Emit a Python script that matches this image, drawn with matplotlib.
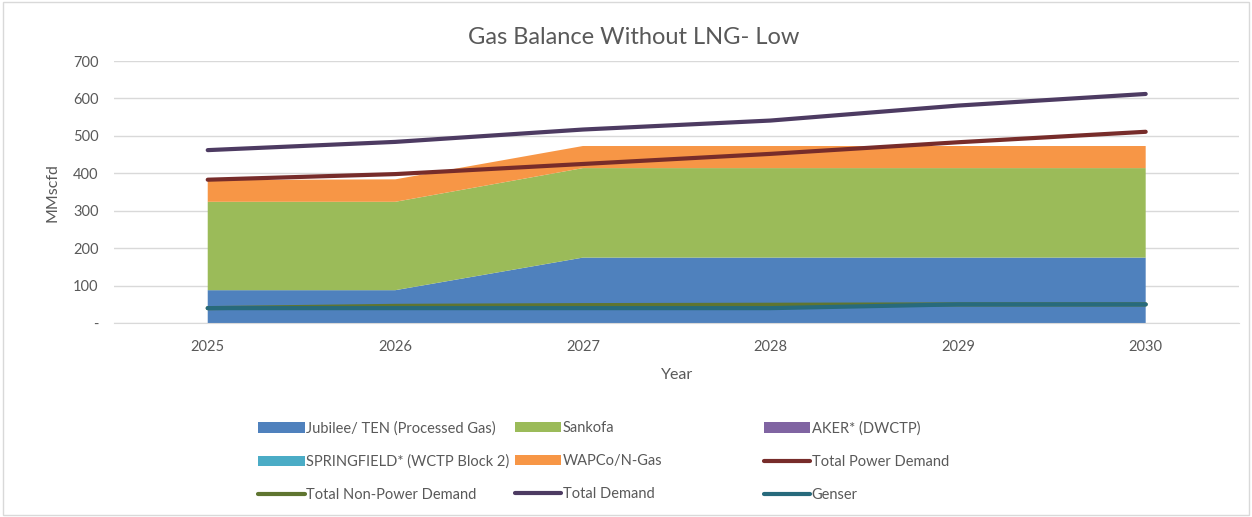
import matplotlib
matplotlib.use("Agg")
import matplotlib.pyplot as plt
from matplotlib.patches import Rectangle

plt.rcParams['font.family'] = ['Lato', 'DejaVu Sans']

years = ["2025", "2026", "2027", "2028", "2029", "2030"]
jubilee = [88, 88, 175, 175, 175, 175]
sankofa = [236, 236, 239, 239, 239, 239]
aker = [0, 0, 0, 0, 0, 0]
springfield = [0, 0, 0, 0, 0, 0]
wapco = [58, 60, 59, 59, 59, 59]
total_power = [383, 398, 425, 452, 483, 511]
non_power = [40, 46, 48, 49, 50, 50]
total_demand = [462, 484, 517, 541, 581, 612]
genser = [40, 40, 40, 40, 50, 50]

c_jub = "#4F81BD"
c_san = "#9BBB59"
c_aker = "#8064A2"
c_spr = "#4BACC6"
c_wap = "#F79646"
c_pow = "#772C2A"
c_np = "#5F7530"
c_tot = "#4D3B62"
c_gen = "#276A7C"

fig = plt.figure(figsize=(12.52, 5.17), dpi=100)
ax = fig.add_axes([0.091, 0.375, 0.899, 0.507])
x = list(range(len(years)))

areas = ax.stackplot(x, jubilee, sankofa, aker, springfield, wapco,
                     colors=[c_jub, c_san, c_aker, c_spr, c_wap],
                     labels=["Jubilee/ TEN (Processed Gas)", "Sankofa", "AKER* (DWCTP)",
                             "SPRINGFIELD* (WCTP Block 2)", "WAPCo/N-Gas"],
                     zorder=2, linewidth=0)
lw = 3
l_pow, = ax.plot(x, total_power, color=c_pow, lw=lw, solid_capstyle="round", zorder=3, label="Total Power Demand")
l_np, = ax.plot(x, non_power, color=c_np, lw=lw, solid_capstyle="round", zorder=3, label="Total Non-Power Demand")
l_tot, = ax.plot(x, total_demand, color=c_tot, lw=lw, solid_capstyle="round", zorder=3, label="Total Demand")
l_gen, = ax.plot(x, genser, color=c_gen, lw=lw, solid_capstyle="round", zorder=4, label="Genser")

ax.set_xlim(-0.5, 5.5)
ax.set_ylim(0, 700)
ax.set_xticks(x)
ax.set_xticklabels(years)
ax.set_yticks(range(0, 701, 100))
ax.set_yticklabels(["-"] + [str(v) for v in range(100, 701, 100)])
ax.tick_params(length=0, labelsize=10.5, colors="#595959", pad=12)
ax.tick_params(axis="y", pad=11)
ax.grid(axis="y", color="#D9D9D9", lw=1, zorder=0)
for s in ["top", "right", "left"]:
    ax.spines[s].set_visible(False)
ax.spines["bottom"].set_color("#D9D9D9")
ax.set_axisbelow(True)

fig.text(0.506, 0.928, "Gas Balance Without LNG- Low", fontsize=17, color="#595959",
         ha="center", va="center")
ax.set_xlabel("Year", fontsize=11.5, color="#595959", labelpad=10)
ax.set_ylabel("MMscfd", fontsize=11.5, color="#595959", labelpad=10)

cols = [
    ([areas[0], areas[3], l_np], 0.206),
    ([areas[1], areas[4], l_tot], 0.411),
    ([areas[2], l_pow, l_gen], 0.610),
]
for handles, x0 in cols:
    fig.legend(handles=handles, loc="upper left", bbox_to_anchor=(x0, 0.185),
               ncol=1, frameon=False, fontsize=10.5, labelcolor="#595959",
               handlelength=3.2, handletextpad=0.1, labelspacing=1.3,
               borderaxespad=0, borderpad=0)

fig.patches.append(Rectangle((0.002, 0.003), 0.996, 0.994, transform=fig.transFigure,
                             fill=False, edgecolor="#D9D9D9", lw=1))

fig.savefig("out.png", dpi=100)
